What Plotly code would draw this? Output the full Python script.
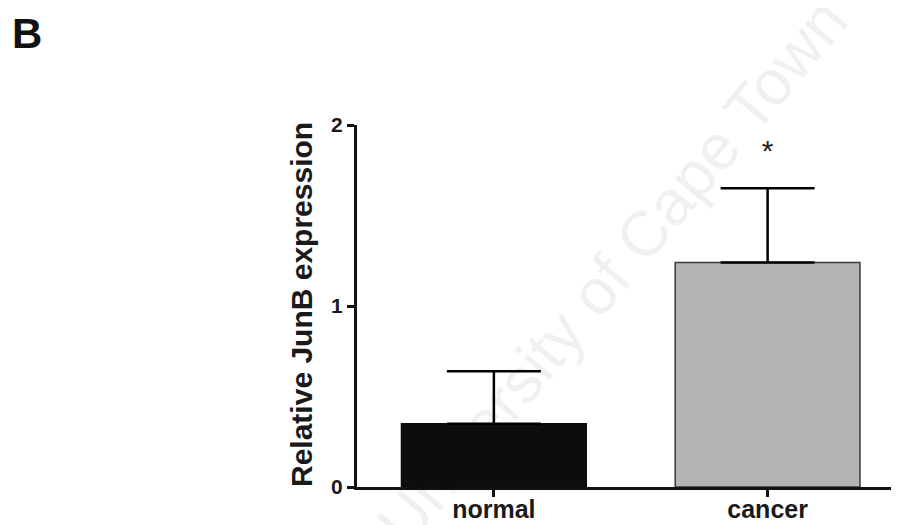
import plotly.graph_objects as go

categories = ["normal", "cancer"]
means = [0.35, 1.24]
errors_up = [0.29, 0.41]
bar_colors = ["#0d0d0d", "#b4b4b4"]
y_ticks = [0, 1, 2]
y_tick_labels = ["0", "1", "2"]
significance = ["", "*"]
y_title = "Relative JunB expression"

# page body has an 8px margin; figure sized so plot area lands where the reference has it
W, H = 891, 517
L, R, T, B = 349, 0, 117, 38
PW, PH = W - L - R, H - T - B

fig = go.Figure()
fig.add_trace(go.Bar(
    x=categories, y=means,
    width=0.675,
    marker=dict(color=bar_colors, line=dict(color=["#0d0d0d", "#3a3a3a"], width=1.5)),
    error_y=dict(type="data", symmetric=False, array=errors_up,
                 arrayminus=[0, 0], color="black", thickness=2.5, width=47),
    showlegend=False,
))
fig.add_trace(go.Scatter(
    x=categories, y=[m + e + 0.19 for m, e in zip(means, errors_up)],
    mode="text", text=significance, textposition="middle center",
    textfont=dict(family="Arial, Liberation Sans", size=30, color="#222"),
    showlegend=False, hoverinfo="skip",
))

fig.update_layout(
    width=W, height=H,
    margin=dict(l=L, r=R, t=T, b=B, pad=0),
    paper_bgcolor="white", plot_bgcolor="white",
    font=dict(family="Arial, Liberation Sans, sans-serif", color="#1a1a1a"),
    xaxis=dict(
        range=[-0.5, 1.48], showgrid=False, zeroline=False,
        showline=True, linecolor="#111", linewidth=3,
        ticks="outside", ticklen=7, tickwidth=2.5, tickcolor="#111",
        tickfont=dict(size=25, color="#1a1a1a", weight="bold"),
        ticklabelstandoff=-9,
        automargin=False,
    ),
    yaxis=dict(
        range=[0, 2], showgrid=False, zeroline=False,
        showline=True, linecolor="#111", linewidth=3,
        ticks="outside", ticklen=7, tickwidth=2.5, tickcolor="#111",
        tickvals=y_ticks, ticktext=y_tick_labels,
        tickfont=dict(size=21, color="#1a1a1a", weight="bold"),
        automargin=False,
    ),
    annotations=[
        dict(text="<b>B</b>", x=(27 - 8 - L) / PW, y=(H - B - (33 - 8)) / PH,
             xref="paper", yref="paper",
             xanchor="center", yanchor="middle", showarrow=False,
             font=dict(size=42, color="#111")),
        dict(text="<b>" + y_title + "</b>", x=(301 - 8 - L) / PW, y=(H - B - (305 - 8)) / PH,
             xref="paper", yref="paper", textangle=-90,
             xanchor="center", yanchor="middle", showarrow=False,
             font=dict(size=30, color="#1a1a1a")),
        dict(text="University of Cape Town", x=(612 - 8 - L) / PW, y=(H - B - (272 - 8)) / PH,
             xref="paper", yref="paper",
             showarrow=False, textangle=-50,
             font=dict(size=64, color="rgba(0,0,0,0.06)")),
    ],
)

fig.write_html("out.html")
